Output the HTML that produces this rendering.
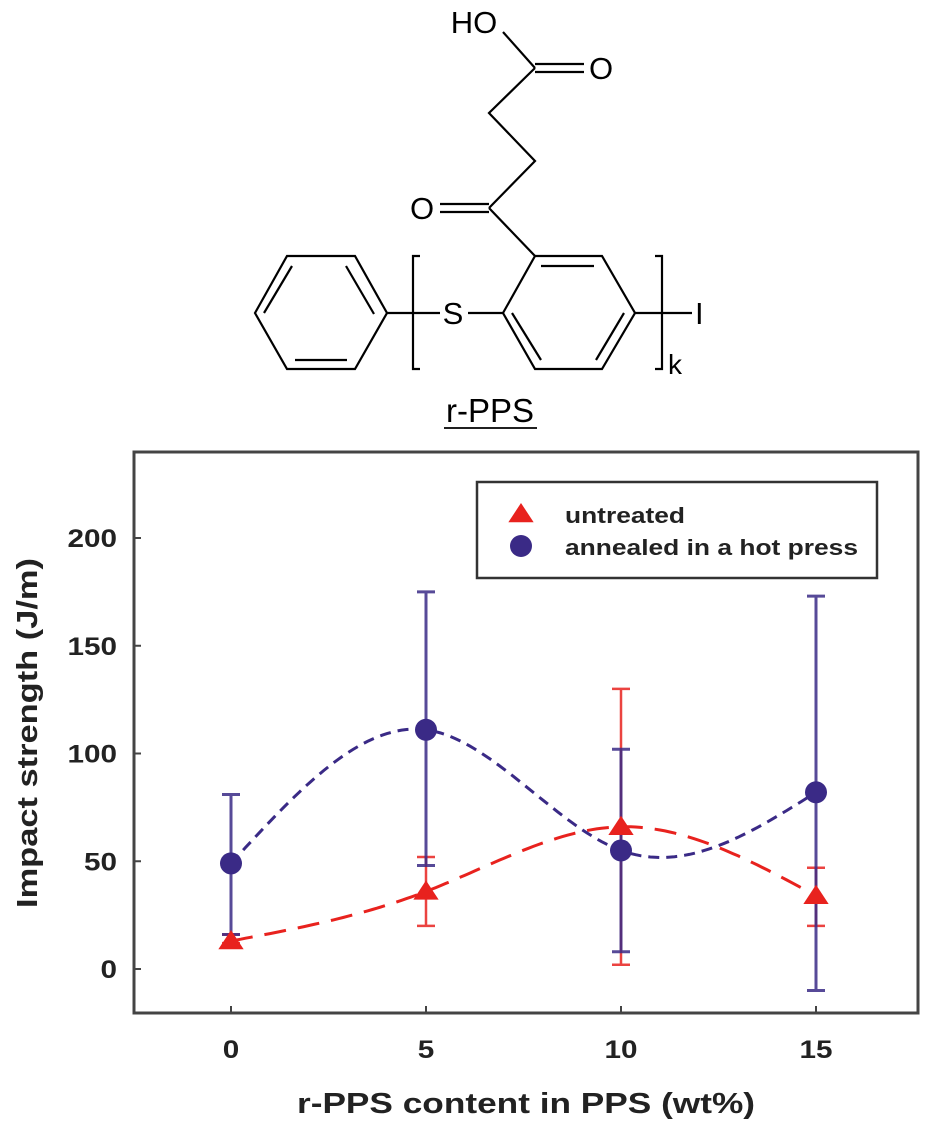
<!DOCTYPE html>
<html><head><meta charset="utf-8"><style>
html,body{margin:0;padding:0;background:#fff;}
svg{display:block;}
</style></head><body>
<svg width="925" height="1134" viewBox="0 0 925 1134" xmlns="http://www.w3.org/2000/svg">
<g stroke="#000" stroke-width="2.2" fill="none" font-family="Liberation Sans, sans-serif">
  <polygon points="255,313 287,256 355,256 387,313 355,369 287,369"/>
  <line x1="346" y1="266" x2="374" y2="314"/>
  <line x1="295" y1="360" x2="347" y2="360"/>
  <line x1="264" y1="313" x2="292" y2="266"/>
  <line x1="387" y1="313" x2="440" y2="313"/>
  <path d="M420,256 L413,256 L413,369 L420,369"/>
  <line x1="468" y1="313" x2="503" y2="313"/>
  <polygon points="503,313 535,256 602,256 635,313 602,369 535,369"/>
  <line x1="541" y1="266" x2="594" y2="266"/>
  <line x1="624" y1="313" x2="596" y2="360"/>
  <line x1="512" y1="313" x2="541" y2="360"/>
  <line x1="635" y1="313" x2="692" y2="313"/>
  <path d="M655,256 L662,256 L662,369 L655,369"/>
  <line x1="535" y1="256" x2="489" y2="208"/>
  <line x1="489" y1="204" x2="440" y2="204"/>
  <line x1="489" y1="212" x2="440" y2="212"/>
  <polyline points="489,208 535,161 489,113 535,68"/>
  <line x1="535" y1="64" x2="584" y2="64"/>
  <line x1="535" y1="72" x2="584" y2="72"/>
  <line x1="535" y1="68" x2="503" y2="32"/>
  <g stroke="none" fill="#000" font-size="31">
    <text x="453" y="324" text-anchor="middle">S</text>
    <text x="422" y="219" text-anchor="middle">O</text>
    <text x="601" y="79" text-anchor="middle">O</text>
    <text x="474" y="33" text-anchor="middle">HO</text>
    <text x="695" y="324">I</text>
    <text x="668" y="374" font-size="28">k</text>
    <text x="490" y="422" text-anchor="middle" font-size="33">r-PPS</text>
  </g>
  <line x1="444" y1="428" x2="537" y2="428" stroke-width="1.8"/>
</g>
<g id="chart"></g>
</svg>
<script>
const categories = [0, 5, 10, 15];
const xTicks = [0, 5, 10, 15];
const yTicks = [0, 50, 100, 150, 200];
const untreated = [13, 36, 66, 34];
const untreatedLow = [12, 20, 2, 20];
const untreatedHigh = [16, 52, 130, 47];
const annealed = [49, 111, 55, 82];
const annealedLow = [16, 48, 8, -10];
const annealedHigh = [81, 175, 102, 173];

const NS = 'http://www.w3.org/2000/svg';
const g = document.getElementById('chart');
const L = 134, T = 452, R = 918, B = 1013;
function xs(v){ return 231 + (v - 0) * (816 - 231) / 15; }
function ys(v){ return 969 - v * (969 - 538) / 200; }
function mk(tag, attrs, parent){
  const e = document.createElementNS(NS, tag);
  for (const k in attrs) e.setAttribute(k, attrs[k]);
  (parent || g).appendChild(e);
  return e;
}
let fr = mk('rect', {x:L, y:T, width:R-L, height:B-T, fill:'none', stroke:'#444', 'stroke-width':3});


const FONT = 'Liberation Sans, sans-serif';
yTicks.forEach(v => {
  const y = ys(v);
  let t = mk('line', {x1:L, y1:y, x2:L+7, y2:y, stroke:'#444', 'stroke-width':2});
  
  
  const s = String(v);
  let lb = mk('text', {x:117, y:y+9, 'text-anchor':'end', 'font-family':FONT, 'font-weight':'bold', 'font-size':25, fill:'#222', textLength:s.length*16.5, lengthAdjust:'spacingAndGlyphs'});
  lb.textContent = s;
  
  
});
xTicks.forEach(v => {
  const x = xs(v);
  let t = mk('line', {x1:x, y1:B, x2:x, y2:B-7, stroke:'#444', 'stroke-width':2});
  
  
  const s = String(v);
  let lb = mk('text', {x:x, y:1058, 'text-anchor':'middle', 'font-family':FONT, 'font-weight':'bold', 'font-size':25, fill:'#222', textLength:s.length*16.5, lengthAdjust:'spacingAndGlyphs'});
  lb.textContent = s;
  
  
});
let xt = mk('text', {x:526, y:1113, 'text-anchor':'middle', 'font-family':FONT, 'font-weight':'bold', 'font-size':29, fill:'#222', textLength:458, lengthAdjust:'spacingAndGlyphs'});
xt.textContent = 'r-PPS content in PPS (wt%)';


let yt = mk('text', {x:0, y:0, transform:'translate(37,733) rotate(-90)', 'text-anchor':'middle', 'font-family':FONT, 'font-weight':'bold', 'font-size':29, fill:'#222', textLength:350, lengthAdjust:'spacingAndGlyphs'});
yt.textContent = 'Impact strength (J/m)';



function spline(xv, yv){
  const n = xv.length, h = [], a = [], l=[1], mu=[0], z=[0], c=new Array(n).fill(0), b=[], d=[];
  for (let i=0;i<n-1;i++) h[i]=xv[i+1]-xv[i];
  for (let i=1;i<n-1;i++) a[i]=3/h[i]*(yv[i+1]-yv[i])-3/h[i-1]*(yv[i]-yv[i-1]);
  for (let i=1;i<n-1;i++){ l[i]=2*(xv[i+1]-xv[i-1])-h[i-1]*mu[i-1]; mu[i]=h[i]/l[i]; z[i]=(a[i]-h[i-1]*z[i-1])/l[i]; }
  l[n-1]=1; z[n-1]=0;
  for (let j=n-2;j>=0;j--){ c[j]=z[j]-mu[j]*c[j+1]; b[j]=(yv[j+1]-yv[j])/h[j]-h[j]*(c[j+1]+2*c[j])/3; d[j]=(c[j+1]-c[j])/(3*h[j]); }
  let pts=[];
  for (let j=0;j<n-1;j++){
    for (let s=0;s<=40;s++){
      const dx = h[j]*s/40;
      pts.push([xs(xv[j]+dx), ys(yv[j]+b[j]*dx+c[j]*dx*dx+d[j]*dx*dx*dx)]);
    }
  }
  return 'M' + pts.map(p=>p[0].toFixed(1)+','+p[1].toFixed(1)).join(' L');
}
const RED = '#e8221e', BLUE = '#3a2a86';
function errBars(vals, lo, hi, color, name, w){
  categories.forEach((c,i) => {
    const x = xs(c);
    let e = mk('path', {d:`M${x},${ys(lo[i])} V${ys(hi[i])} M${x-9},${ys(lo[i])} H${x+9} M${x-9},${ys(hi[i])} H${x+9}`, stroke:color, 'stroke-width':w, fill:'none', opacity:0.85});
    
    
  });
}
errBars(untreated, untreatedLow, untreatedHigh, RED, 'untreated-error-bar', 2.5);
errBars(annealed, annealedLow, annealedHigh, BLUE, 'annealed-error-bar', 3);
let l1 = mk('path', {d:spline(categories, untreated), stroke:RED, 'stroke-width':3, fill:'none', 'stroke-dasharray':'22 12'});


let l2 = mk('path', {d:spline(categories, annealed), stroke:BLUE, 'stroke-width':3, fill:'none', 'stroke-dasharray':'11 7'});


function tri(x,y,s){ return `${x},${y-s} ${x+s*1.15},${y+s*0.75} ${x-s*1.15},${y+s*0.75}`; }
categories.forEach((c,i) => {
  let p = mk('polygon', {points:tri(xs(c), ys(untreated[i]), 11), fill:RED});
  
  
  let q = mk('circle', {cx:xs(c), cy:ys(annealed[i]), r:11, fill:BLUE});
  
  
});
let lg = mk('g', {});


mk('rect', {x:477, y:482, width:400, height:96, fill:'#fff', stroke:'#333', 'stroke-width':2.5}, lg);
let lt = mk('polygon', {points:tri(521, 514, 11), fill:RED}, lg);


let lc = mk('circle', {cx:521, cy:546, r:11, fill:BLUE}, lg);


let t1 = mk('text', {x:565, y:523, 'font-family':FONT, 'font-weight':'bold', 'font-size':22, fill:'#222', textLength:120, lengthAdjust:'spacingAndGlyphs'}, lg);
t1.textContent = 'untreated';


let t2 = mk('text', {x:565, y:555, 'font-family':FONT, 'font-weight':'bold', 'font-size':22, fill:'#222', textLength:293, lengthAdjust:'spacingAndGlyphs'}, lg);
t2.textContent = 'annealed in a hot press';


</script>
</body></html>
